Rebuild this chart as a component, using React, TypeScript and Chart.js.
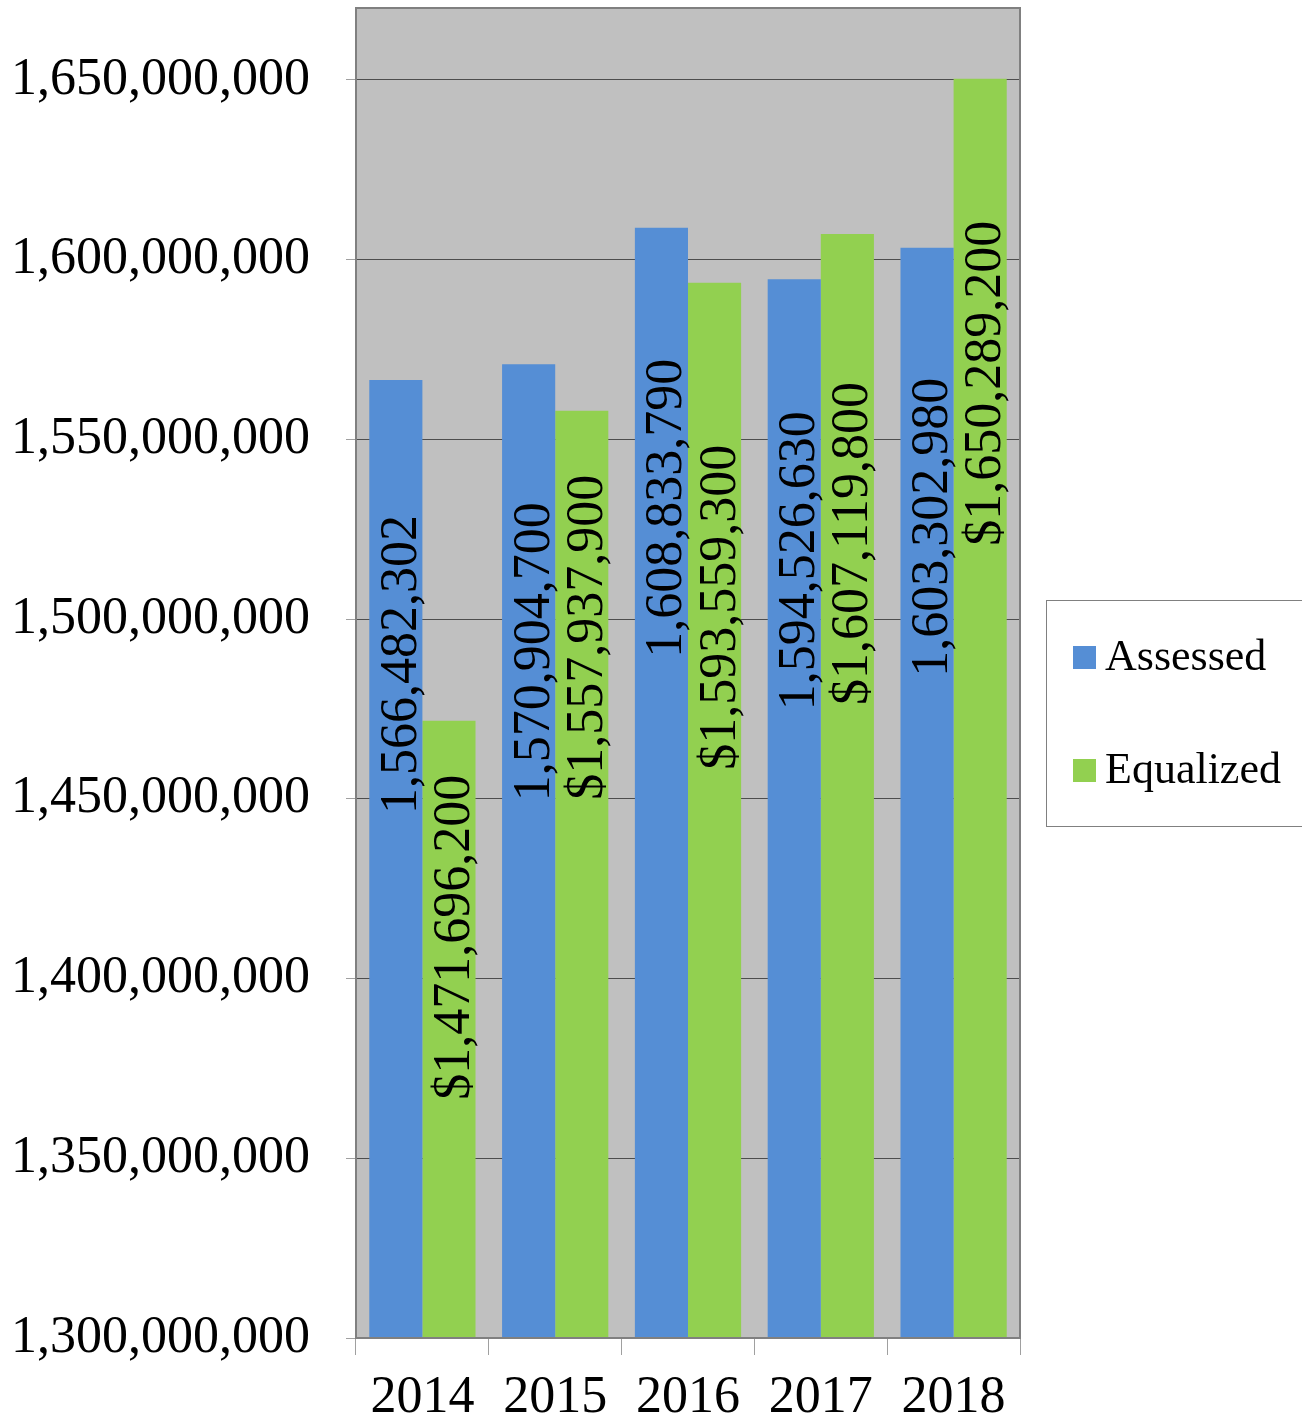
import React, { useEffect, useRef } from "react";
import { Chart, registerables } from "chart.js";

Chart.register(...registerables);

const categories = ["2014", "2015", "2016", "2017", "2018"];
const assessedValues = [1566482302, 1570904700, 1608833790, 1594526630, 1603302980];
const equalizedValues = [1471696200, 1557937900, 1593559300, 1607119800, 1650289200];
const seriesNames = ["Assessed", "Equalized"];
const yTickValues = [1300000000, 1350000000, 1400000000, 1450000000, 1500000000, 1550000000, 1600000000, 1650000000];
const yMin = 1300000000;
const yMax = 1670000000;
// gap (px) between bar top and the end of its rotated label
const assessedLabelGap = [135, 138, 131, 132, 130];
const equalizedLabelGap = [54, 64, 162, 148, 142];

const FONT = '"Liberation Serif", "Times New Roman", serif';
const BLUE = "#558ed5";
const GREEN = "#92d050";

const fmt = (v: number) => v.toLocaleString("en-US");

const plotPlugin = {
  id: "plotDecor",
  beforeDraw(chart: any) {
    const { ctx, chartArea } = chart;
    ctx.save();
    ctx.fillStyle = "#c0c0c0";
    ctx.fillRect(chartArea.left, chartArea.top, chartArea.right - chartArea.left, chartArea.bottom - chartArea.top);
    ctx.restore();
  },
  afterDatasetsDraw(chart: any) {
    const { ctx, chartArea } = chart;
    ctx.save();
    ctx.strokeStyle = "#808080";
    ctx.lineWidth = 2;
    ctx.strokeRect(chartArea.left, chartArea.top, chartArea.right - chartArea.left, chartArea.bottom - chartArea.top);
    ctx.restore();

    const gaps = [assessedLabelGap, equalizedLabelGap];
    ctx.save();
    ctx.fillStyle = "#000";
    ctx.font = `52px ${FONT}`;
    ctx.textAlign = "right";
    ctx.textBaseline = "alphabetic";
    chart.data.datasets.forEach((ds: any, di: number) => {
      const meta = chart.getDatasetMeta(di);
      meta.data.forEach((bar: any, i: number) => {
        const v = ds.data[i];
        const text = di === 0 ? fmt(v) : "$" + fmt(v);
        ctx.save();
        ctx.translate(bar.x, bar.y + gaps[di][i]);
        ctx.rotate(-Math.PI / 2);
        ctx.fillText(text, 0, 20);
        ctx.restore();
      });
    });
    ctx.restore();
  },
  afterDraw(chart: any) {
    const { ctx } = chart;
    ctx.save();
    ctx.fillStyle = "#ffffff";
    ctx.fillRect(1046, 600, 260, 227);
    ctx.strokeStyle = "#808080";
    ctx.lineWidth = 1;
    ctx.strokeRect(1046.5, 600.5, 260, 226);
    const colors = [BLUE, GREEN];
    const ys = [657, 770];
    ctx.font = `44px ${FONT}`;
    ctx.textAlign = "left";
    ctx.textBaseline = "middle";
    seriesNames.forEach((name, i) => {
      ctx.fillStyle = colors[i];
      ctx.fillRect(1073, ys[i] - 11, 23, 23);
      ctx.fillStyle = "#000";
      ctx.fillText(name, 1105, ys[i] + 1);
    });
    ctx.restore();
  },
};

export default function App() {
  const ref = useRef<HTMLCanvasElement | null>(null);
  useEffect(() => {
    document.body.style.margin = "0";
    const canvas = ref.current!;
    const chart = new Chart(canvas, {
      type: "bar",
      data: {
        labels: categories,
        datasets: [
          { label: seriesNames[0], data: assessedValues, backgroundColor: BLUE, categoryPercentage: 0.8, barPercentage: 1 },
          { label: seriesNames[1], data: equalizedValues, backgroundColor: GREEN, categoryPercentage: 0.8, barPercentage: 1 },
        ],
      },
      options: {
        animation: false,
        responsive: false,
        devicePixelRatio: 1,
        layout: { padding: { top: 8, right: 282, left: 0, bottom: 0 } },
        plugins: { legend: { display: false }, tooltip: { enabled: false } },
        scales: {
          x: {
            offset: true,
            grid: { display: true, drawOnChartArea: false, offset: true, tickLength: 17, tickColor: "#a0a0a0", tickWidth: 1 },
            border: { display: false },
            ticks: { color: "#000", font: { family: FONT, size: 52 }, padding: 12, maxRotation: 0 },
            afterFit(scale: any) {
              scale.height = 85;
              scale.paddingLeft = 0;
              scale.paddingRight = 0;
            },
          },
          y: {
            min: yMin,
            max: yMax,
            ticks: {
              color: "#000",
              font: { family: FONT, size: 52 },
              padding: 36,
              callback: (v: any) => fmt(Number(v)),
            },
            afterBuildTicks(scale: any) {
              scale.ticks = yTickValues.map((value) => ({ value }));
            },
            afterFit(scale: any) {
              scale.width = 356;
              scale.paddingTop = 0;
              scale.paddingBottom = 0;
            },
            grid: { color: "#4d4d4d", lineWidth: 1, tickLength: 10, tickColor: "#a0a0a0" },
            border: { display: false },
          },
        },
      },
      plugins: [plotPlugin],
    });
    return () => chart.destroy();
  }, []);
  return <canvas ref={ref} width={1302} height={1423} style={{ display: "block" }} />;
}
